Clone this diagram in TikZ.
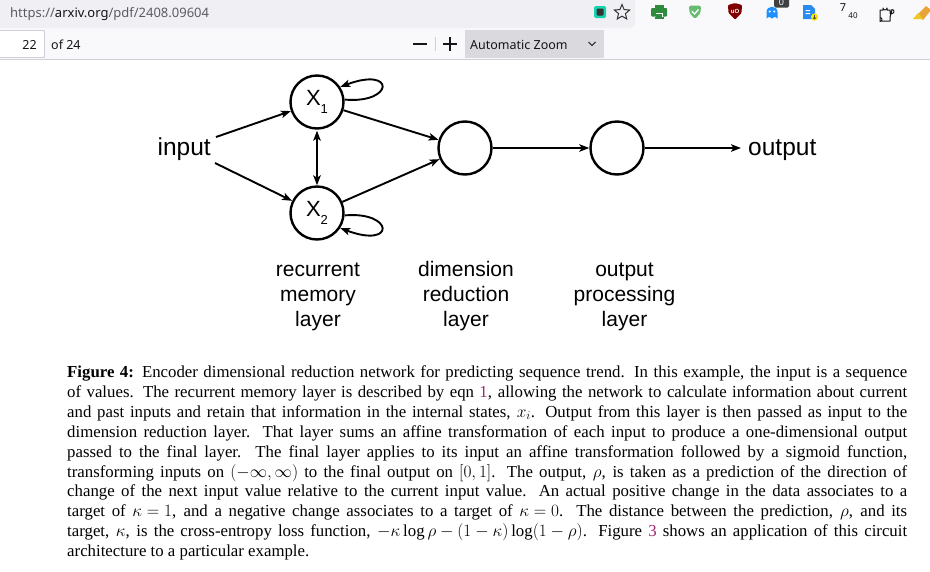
\documentclass[tikz,border=0pt]{standalone}
\usepackage{fontspec}
\setmainfont{Liberation Serif}
\newfontfamily\arialf{Liberation Sans}
\newfontfamily\uif{Noto Sans}
\usetikzlibrary{arrows.meta,shapes.geometric}
\definecolor{linkc}{RGB}{160,40,110}
\definecolor{tbbg}{HTML}{F9F9FB}
\definecolor{urlbg}{HTML}{F0F0F4}
\definecolor{bordc}{HTML}{CFCFD8}
\definecolor{urlgray}{HTML}{5B5B66}
\definecolor{urldark}{HTML}{15141A}
\definecolor{zbg}{HTML}{DADADE}
\definecolor{tealc}{HTML}{19D3B0}
\definecolor{printc}{HTML}{2E8B3E}
\definecolor{agc}{HTML}{68BC71}
\definecolor{ubc}{HTML}{800000}
\definecolor{ghostc}{HTML}{1E90FF}
\definecolor{docc}{HTML}{2A8CF0}
\definecolor{broomc}{HTML}{E8A33A}
\newcommand{\mm}[1]{\mbox{$#1$}}
\begin{document}
\begin{tikzpicture}[x=1pt,y=-1pt,
  nd/.style={circle,draw,line width=2.4pt,minimum size=53pt,inner sep=0pt,font=\arialf\fontsize{22}{22}\selectfont},
  arr/.style={-{Stealth[length=10pt,width=7.5pt,inset=2.5pt]},line width=1.9pt},
  dblarr/.style={{Stealth[length=10pt,width=7.5pt,inset=2.5pt]}-{Stealth[length=10pt,width=7.5pt,inset=2.5pt]},line width=1.9pt},
  io/.style={inner sep=0pt,font=\arialf\fontsize{24.5}{24.5}\selectfont},
  lbl/.style={anchor=base,inner sep=0pt,font=\arialf\fontsize{21}{25}\selectfont},
  captxt/.style={anchor=base west,inner sep=0pt,font=\fontsize{16.8}{20}\selectfont},
  ui/.style={inner sep=0pt,font=\uif\fontsize{12.5}{12.5}\selectfont,text=urldark}]
\useasboundingbox (0,0) rectangle (930,571);
\fill[white] (0,0) rectangle (930,571);
% ---------- browser chrome ----------
\fill[tbbg] (0,0) rectangle (930,59);
\fill[urlbg,rounded corners=6pt] (-10,-10) rectangle (635,28);
\draw[bordc,line width=1pt] (0,59.5) -- (930,59.5);
\node[ui,anchor=base west,font=\uif\fontsize{13}{13}\selectfont] (url) at (10,17.5)
  {{\color{urlgray}https://}{\color{urldark}arxiv.org}{\color{urlgray}/pdf/2408.09604}};
\draw[bordc,fill=white,line width=0.8pt] (-1,30.5) rectangle (44,57.5);
\node[ui,anchor=base east] (pgno) at (37,49) {22};
\node[ui,anchor=base west] (pgof) at (51,49) {of 24};
\draw[urldark,line width=1.1pt] (413,44) -- (427,44);
\draw[bordc,line width=1pt] (435,37) -- (435,51);
\draw[urldark,line width=1.1pt] (443,44) -- (457,44) (450,37) -- (450,51);
\fill[zbg] (465,30) rectangle (604,58);
\node[ui,anchor=base west] (zoomtxt) at (470,49) {Automatic Zoom};
\draw[urldark,line width=1pt] (588.5,42) -- (592,45.5) -- (595.5,42);
% icons
\fill[tealc,rounded corners=1.5pt] (594,6) rectangle (606,18);
\fill[black!80,rounded corners=1pt] (596.5,8.5) rectangle (603.5,15.5);
\node[star,star points=5,star point ratio=2.2,draw=black!80,line width=1pt,minimum size=16pt,inner sep=0pt] (staricon) at (622,12.5) {};
\fill[printc,rounded corners=1pt] (651,8) rectangle (667,16.5);
\fill[printc] (654.5,5) rectangle (663.5,8);
\fill[printc] (654.5,16.5) rectangle (663.5,19);
\fill[white] (655.5,13) rectangle (662.5,16.5);
\fill[printc] (656,14) rectangle (662,18.5);
\fill[agc,rounded corners=1.5pt] (689,5.5) -- (701,5.5) -- (700.5,13) -- (695,19) -- (689.5,13) -- cycle;
\draw[white,line width=1.3pt] (691.8,11.2) -- (694.5,14) -- (698.5,9.5);
\fill[ubc,rounded corners=1pt] (728,5) -- (735,3) -- (742,5) -- (741.5,13) -- (735,19.5) -- (728.5,13) -- cycle;
\node[inner sep=0pt,text=white,font=\arialf\bfseries\fontsize{6}{6}\selectfont] (ubtxt) at (735,11) {uO};
\fill[ghostc] (766.5,18.5) -- (766.5,12) .. controls (766.5,5) and (777.5,5) .. (777.5,12) -- (777.5,18.5) -- (774.8,16.8) -- (772,18.5) -- (769.2,16.8) -- cycle;
\fill[white] (769.8,11.5) circle (1.1pt) (774.2,11.5) circle (1.1pt);
\fill[black!75,rounded corners=1.5pt] (774,-3) rectangle (789,7.5);
\node[inner sep=0pt,text=white,font=\uif\fontsize{9}{9}\selectfont] (badge) at (781.5,2.5) {0};
\fill[docc] (803,5) -- (811,5) -- (815,9) -- (815,19) -- (803,19) -- cycle;
\fill[white] (805.5,10) rectangle (810,11) (805.5,13) rectangle (810,14);
\fill[yellow!85!orange] (814.5,17) circle (3.6pt);
\draw[black!70,line width=0.7pt] (814.5,15) -- (814.5,19) (813,17.7) -- (814.5,19) -- (816,17.7);
\node[inner sep=0pt,font=\uif\fontsize{11}{11}\selectfont,text=urldark] (seven) at (843,8) {7};
\node[inner sep=0pt,font=\uif\fontsize{8}{8}\selectfont,text=urldark] (forty) at (853,15.5) {40};
\draw[urldark,line width=1pt,line join=round] (880,10) -- (883,10) -- (883,8) arc (180:0:2) -- (887,10) -- (890,10) -- (890,13.5) -- (892,13.5) arc (90:-90:2) -- (890,17.5) -- (890,21) -- (880,21) -- (880,17.5) arc (-90:90:2) -- (880,13.5) -- cycle;
\fill[broomc] (916,16) -- (926,6) -- (931,10) -- (923,20) -- cycle;
\fill[broomc!60!yellow] (913,19) -- (918,13) -- (923,19) -- cycle;
% ---------- diagram ----------
\node[io,anchor=base east] (in) at (211,155.5) {input};
\node[io,anchor=base west] (out) at (748,155.5) {output};
\node[nd] (x1) at (317,102) {X\raisebox{-0.4em}{\fontsize{13}{13}\selectfont 1}};
\node[nd] (x2) at (317,213) {X\raisebox{-0.4em}{\fontsize{13}{13}\selectfont 2}};
\node[nd] (dim) at (465,148) {};
\node[nd] (proc) at (617,148) {};
\coordinate (ia) at (216,137);
\coordinate (ib) at (215,163);
\coordinate (oa) at (741,148);
\draw[arr] (ia) -- (x1);
\draw[arr] (ib) -- (x2);
\draw[arr] (x1) -- (dim);
\draw[arr] (x2) -- (dim);
\draw[dblarr,shorten <=1pt] (x1) -- (x2);
\draw[arr] (dim) -- (proc);
\draw[arr] (proc) -- (oa);
\draw[arr] (x1.5) .. controls (394,104) and (396,66) .. (x1.33);
\draw[arr] (x2.-5) .. controls (394,211) and (396,249) .. (x2.-33);
\node[lbl] (l1a) at (318,276.5) {recurrent};
\node[lbl] (l1b) at (318,301.5) {memory};
\node[lbl] (l1c) at (318,326.5) {layer};
\node[lbl] (l2a) at (466,276.5) {dimension};
\node[lbl] (l2b) at (466,301.5) {reduction};
\node[lbl] (l2c) at (466,326.5) {layer};
\node[lbl] (l3a) at (624.5,276.5) {output};
\node[lbl] (l3b) at (624.5,301.5) {processing};
\node[lbl] (l3c) at (624.5,326.5) {layer};
% ---------- caption ----------
\node[captxt] (c1) at (67,377.5) {\makebox[840pt][s]{\textbf{Figure 4:} Encoder dimensional reduction network for predicting sequence trend. In this example, the input is a sequence}};
\node[captxt] (c2) at (67,397.4) {\makebox[840pt][s]{of values. The recurrent memory layer is described by eqn {\color{linkc}1}, allowing the network to calculate information about current}};
\node[captxt] (c3) at (67,417.3) {\makebox[840pt][s]{and past inputs and retain that information in the internal states, \mm{x_i}. Output from this layer is then passed as input to the}};
\node[captxt] (c4) at (67,437.2) {\makebox[840pt][s]{dimension reduction layer. That layer sums an affine transformation of each input to produce a one-dimensional output}};
\node[captxt] (c5) at (67,457.1) {\makebox[840pt][s]{passed to the final layer. The final layer applies to its input an affine transformation followed by a sigmoid function,}};
\node[captxt] (c6) at (67,477.0) {\makebox[840pt][s]{transforming inputs on \mm{(-\infty,\infty)} to the final output on \mm{[0,1]}. The output, \mm{\rho}, is taken as a prediction of the direction of}};
\node[captxt] (c7) at (67,496.9) {\makebox[840pt][s]{change of the next input value relative to the current input value. An actual positive change in the data associates to a}};
\node[captxt] (c8) at (67,516.8) {\makebox[840pt][s]{target of \mm{\kappa=1}, and a negative change associates to a target of \mm{\kappa=0}. The distance between the prediction, \mm{\rho}, and its}};
\node[captxt] (c9) at (67,536.7) {\makebox[840pt][s]{target, \mm{\kappa}, is the cross-entropy loss function, \mm{-\kappa\log\rho-(1-\kappa)\log(1-\rho)}. Figure {\color{linkc}3} shows an application of this circuit}};
\node[captxt] (c10) at (67,556.6) {architecture to a particular example.};
\end{tikzpicture}
\end{document}
